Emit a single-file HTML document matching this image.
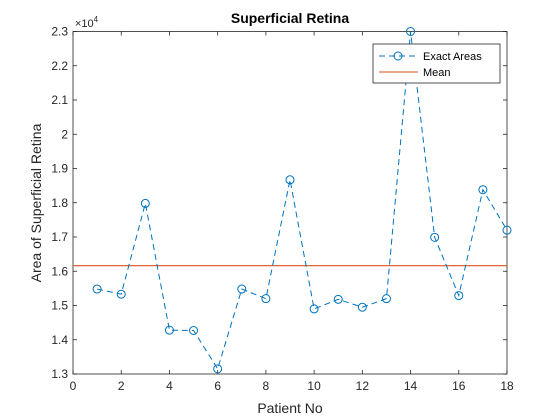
<!DOCTYPE html>
<html><head><meta charset="utf-8"><style>
body{margin:0;background:#fff;}
svg{display:block;font-family:"Liberation Sans",Arial,sans-serif;}
</style></head><body>
<svg id="chart" width="560" height="420" viewBox="0 0 560 420">
<rect width="560" height="420" fill="#fff"/>
<g id="grid"></g>
<g id="plot"></g>
<text x="290" y="23" text-anchor="middle" font-size="14" font-weight="bold" fill="#000">Superficial Retina</text>
<text x="290" y="413" text-anchor="middle" font-size="14" fill="#262626">Patient No</text>
<text transform="translate(41,203) rotate(-90)" text-anchor="middle" font-size="14" fill="#262626">Area of Superficial Retina</text>
<text x="75" y="27" font-size="11" fill="#262626">×10<tspan dy="-5" font-size="8">4</tspan></text>
<g>
<rect x="373" y="44" width="127" height="39" fill="#fff" stroke="#262626" stroke-width="0.8"/>
<line x1="379" y1="56" x2="418" y2="56" stroke="#0072BD" stroke-dasharray="6,4"/>
<circle cx="398" cy="56" r="4" fill="none" stroke="#0072BD"/>
<text x="423" y="60" font-size="11" fill="#000">Exact Areas</text>
<line x1="379" y1="72" x2="418" y2="72" stroke="#D95319"/>
<text x="423" y="76" font-size="11" fill="#000">Mean</text>
</g>
</svg>
<script>
const patients=[1,2,3,4,5,6,7,8,9,10,11,12,13,14,15,16,17,18];
const areas=[15480,15330,17980,14280,14270,13150,15480,15200,18670,14900,15180,14950,15200,23000,16990,15290,18380,17200];
const xTicks=[0,2,4,6,8,10,12,14,16,18];
const yTicks=[1.3,1.4,1.5,1.6,1.7,1.8,1.9,2.0,2.1,2.2,2.3];
const yTickLabels=["1.3","1.4","1.5","1.6","1.7","1.8","1.9","2","2.1","2.2","2.3"];
const L=73,R=507,T=31.5,B=374,xMin=0,xMax=18,yMin=13000,yMax=23000;
const xs=v=>L+(v-xMin)/(xMax-xMin)*(R-L);
const ys=v=>B-(v-yMin)/(yMax-yMin)*(B-T);
const NS="http://www.w3.org/2000/svg";
const g=document.getElementById('grid'),p=document.getElementById('plot');
function mk(tag,attrs,parent){const e=document.createElementNS(NS,tag);for(const k in attrs)e.setAttribute(k,attrs[k]);parent.appendChild(e);return e;}
const box=mk('rect',{x:L,y:T,width:R-L,height:B-T,fill:'none',stroke:'#262626','stroke-width':0.8},g);


xTicks.forEach(t=>{
 const x=xs(t);
 mk('line',{x1:x,y1:B,x2:x,y2:B-4,stroke:'#262626','stroke-width':0.8},g);
 mk('line',{x1:x,y1:T,x2:x,y2:T+4,stroke:'#262626','stroke-width':0.8},g);
 const tx=mk('text',{x:x,y:B+16,'text-anchor':'middle','font-size':12,fill:'#262626'},g);
 tx.textContent=t;
 
 
});
yTicks.forEach((t,i)=>{
 const y=ys(t*10000);
 mk('line',{x1:L,y1:y,x2:L+4,y2:y,stroke:'#262626','stroke-width':0.8},g);
 mk('line',{x1:R,y1:y,x2:R-4,y2:y,stroke:'#262626','stroke-width':0.8},g);
 const tx=mk('text',{x:L-5,y:y+4,'text-anchor':'end','font-size':12,fill:'#262626'},g);
 tx.textContent=yTickLabels[i];
 
 
});
const mean=areas.reduce((a,b)=>a+b,0)/areas.length;
const ml=mk('line',{x1:L,y1:ys(mean),x2:R,y2:ys(mean),stroke:'#D95319','stroke-width':1.2},p);


const pl=mk('polyline',{points:patients.map((x,i)=>xs(x)+','+ys(areas[i])).join(' '),fill:'none',stroke:'#0072BD','stroke-width':1,'stroke-dasharray':'6,4'},p);


patients.forEach((x,i)=>{
 const c=mk('circle',{cx:xs(x),cy:ys(areas[i]),r:4,fill:'none',stroke:'#0072BD','stroke-width':1},p);
 
 
});
</script>
</body></html>
